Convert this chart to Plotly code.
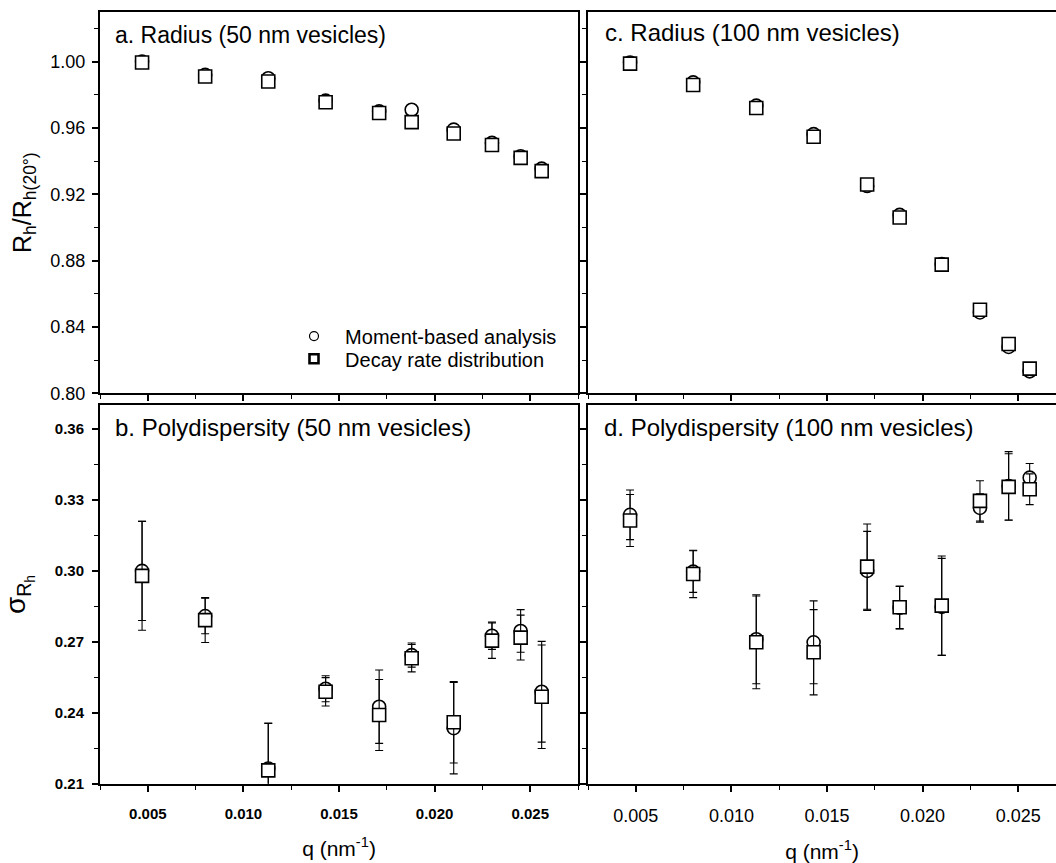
import plotly.graph_objects as go

# ---------------- data ----------------
q = [0.0047, 0.0080, 0.0113, 0.0143, 0.0171, 0.0188, 0.0210, 0.0230, 0.0245, 0.0256]

# a. Radius (50 nm vesicles)
a_moment = [1.000, 0.992, 0.990, 0.9765, 0.970, 0.971, 0.959, 0.951, 0.943, 0.9355]
a_decay = [0.9995, 0.991, 0.988, 0.9755, 0.969, 0.9635, 0.9567, 0.9497, 0.942, 0.934]

# c. Radius (100 nm vesicles)
c_moment = [0.9995, 0.9875, 0.9735, 0.9563, 0.925, 0.9076, 0.878, 0.8488, 0.828, 0.8133]
c_decay = [0.9988, 0.9859, 0.972, 0.9547, 0.9259, 0.906, 0.8776, 0.8504, 0.8298, 0.8149]

# b. Polydispersity (50 nm vesicles)
b_moment = [0.300, 0.2809, 0.2165, 0.2502, 0.2426, 0.2644, 0.2335, 0.2726, 0.2746, 0.2489]
b_moment_err = [0.021, 0.0075, 0.019, 0.0055, 0.0155, 0.0051, 0.0193, 0.0058, 0.009, 0.0213]
b_decay = [0.2979, 0.2792, 0.2157, 0.2489, 0.2391, 0.2631, 0.236, 0.2705, 0.2718, 0.2468]
b_decay_err = [0.023, 0.0095, 0.020, 0.0060, 0.015, 0.0058, 0.0172, 0.0075, 0.0095, 0.0219]

# d. Polydispersity (100 nm vesicles)
d_moment = [0.3237, 0.2997, 0.2711, 0.2698, 0.300, 0.2844, 0.2848, 0.3266, 0.3359, 0.3394]
d_moment_err = [0.0105, 0.0088, 0.0188, 0.0175, 0.0167, 0.009, 0.0205, 0.006, 0.0145, 0.006]
d_decay = [0.3213, 0.2987, 0.2698, 0.2656, 0.3018, 0.2846, 0.2853, 0.3296, 0.3355, 0.3345]
d_decay_err = [0.011, 0.0100, 0.0196, 0.018, 0.018, 0.009, 0.021, 0.0085, 0.014, 0.0065]

series_names = ["Moment-based analysis", "Decay rate distribution"]
panel_titles = ["a. Radius (50 nm vesicles)", "c. Radius (100 nm vesicles)",
                "b. Polydispersity (50 nm vesicles)", "d. Polydispersity (100 nm vesicles)"]

# ---------------- figure ----------------
W, H = 1056, 863
FONT = "Liberation Sans, Arial, Helvetica, sans-serif"

fig = go.Figure()

def px_x(p):
    return p / W

def px_y(p):
    return 1 - p / H

def add_pair(xa, ya, ym, yd, em=None, ed=None):
    common = dict(mode="markers", xaxis=xa, yaxis=ya, showlegend=False, hoverinfo="skip")
    mk = dict(size=13, color="white", line=dict(color="black", width=1.6))
    t1 = dict(x=q, y=ym, marker=dict(symbol="circle", **mk), **common)
    t2 = dict(x=q, y=yd, marker=dict(symbol="square", **mk), **common)
    if em is not None:
        t1["error_y"] = dict(type="data", array=em, visible=True, color="black", thickness=1.1, width=4)
        t2["error_y"] = dict(type="data", array=ed, visible=True, color="black", thickness=1.1, width=4)
    fig.add_trace(go.Scatter(**t1))
    fig.add_trace(go.Scatter(**t2))

add_pair("x", "y", a_moment, a_decay)
add_pair("x2", "y2", c_moment, c_decay)
add_pair("x3", "y3", b_moment, b_decay, b_moment_err, b_decay_err)
add_pair("x4", "y4", d_moment, d_decay, d_moment_err, d_decay_err)

# legend-only entries (smaller symbols as in the original legend), one legend per row
fig.add_trace(go.Scatter(x=[None], y=[None], mode="markers", xaxis="x", yaxis="y",
                         name="\u00a0\u00a0" + series_names[0], legend="legend",
                         marker=dict(symbol="circle", size=9, color="white",
                                     line=dict(color="black", width=1.2))))
fig.add_trace(go.Scatter(x=[None], y=[None], mode="markers", xaxis="x", yaxis="y",
                         name="\u00a0\u00a0" + series_names[1], legend="legend2",
                         marker=dict(symbol="square", size=9, color="white",
                                     line=dict(color="black", width=2.6))))

# geometry (pixels)
L_left, L_right = 100, 578
R_left = 588
T_top, T_bot = 12, 398
B_top, B_bot = 410, 793
xr = [0.0025, 0.0275]
px_per_q = (L_right - L_left) / (xr[1] - xr[0])
xr_right = [xr[0], xr[0] + (W - R_left) / px_per_q]

def xaxis(domain, rng, anchor, labels, font=None):
    d = dict(domain=domain, range=rng, anchor=anchor, showgrid=False, zeroline=False,
             showline=True, linecolor="black", linewidth=2, mirror=True,
             ticks="outside", ticklen=6, tickwidth=1.5, tickcolor="black",
             tick0=0, dtick=0.005, tickformat=".3f", showticklabels=labels,
             ticklabelstandoff=9,
             minor=dict(dtick=0.0025, ticks="outside", ticklen=4, tickwidth=1.2, tickcolor="black"))
    if font:
        d["tickfont"] = font
    return d

def yaxis(domain, rng, anchor, tick0, dtick, mdtick, labels, mirror, font=None, standoff=2):
    d = dict(domain=domain, range=rng, anchor=anchor, showgrid=False, zeroline=False,
             showline=True, linecolor="black", linewidth=2, mirror=mirror,
             ticks="outside", ticklen=6, tickwidth=1.5, tickcolor="black",
             tick0=tick0, dtick=dtick, tickformat=".2f", showticklabels=labels,
             ticklabelstandoff=standoff,
             minor=dict(dtick=mdtick, ticks="outside", ticklen=4, tickwidth=1.2, tickcolor="black"))
    if font:
        d["tickfont"] = font
    return d

dom_xl = [px_x(L_left), px_x(L_right)]
dom_xr = [px_x(R_left), 1.0]
dom_yt = [px_y(T_bot), px_y(T_top)]
dom_yb = [px_y(B_bot), px_y(B_top)]

legend_common = dict(xanchor="left", yanchor="middle", bgcolor="rgba(0,0,0,0)", borderwidth=0,
                     font=dict(size=20, family=FONT, color="black"), itemsizing="trace")

fig.update_layout(
    width=W, height=H,
    margin=dict(l=0, r=0, t=0, b=0),
    paper_bgcolor="white", plot_bgcolor="white",
    font=dict(family=FONT, color="black"),
    xaxis=xaxis(dom_xl, xr, "y", False),
    yaxis=yaxis(dom_yt, [0.80, 1.03], "x", 0.8, 0.04, 0.02, True, True,
                font=dict(size=18, family=FONT, color="black"), standoff=3),
    xaxis2=xaxis(dom_xr, xr_right, "y2", False),
    yaxis2=yaxis(dom_yt, [0.80, 1.03], "x2", 0.8, 0.04, 0.02, False, False),
    xaxis3=xaxis(dom_xl, xr, "y3", True,
                 font=dict(size=15, family=FONT, color="black", weight="bold")),
    yaxis3=yaxis(dom_yb, [0.21, 0.37], "x3", 0.21, 0.03, 0.015, True, True,
                 font=dict(size=15, family=FONT, color="black", weight="bold"), standoff=5),
    xaxis4=xaxis(dom_xr, xr_right, "y4", True, font=dict(size=18, family=FONT, color="black")),
    yaxis4=yaxis(dom_yb, [0.21, 0.37], "x4", 0.21, 0.03, 0.015, False, False),
    legend=dict(x=px_x(294), y=px_y(340), **legend_common),
    legend2=dict(x=px_x(294), y=px_y(363), **legend_common),
    showlegend=True,
)

fig.update_layout(
    yaxis_title=dict(text="R<sub>h</sub>/R<sub>h(20°)</sub>", font=dict(size=25, family=FONT), standoff=12),
    yaxis3_title=dict(text="σ<sub>R<sub>h</sub></sub>", font=dict(size=28, family=FONT), standoff=24),
    xaxis3_title=dict(text="q (nm<sup>-1</sup>)", font=dict(size=21, family=FONT), standoff=20),
    xaxis4_title=dict(text="q (nm<sup>-1</sup>)", font=dict(size=21, family=FONT), standoff=20),
)

title_pos = [(113, 35, 23), (603, 33, 24), (113, 433, 24), (602, 433, 24)]
for txt, (xp, yp, fs) in zip(panel_titles, title_pos):
    fig.add_annotation(text=txt, xref="paper", yref="paper", x=px_x(xp), y=px_y(yp),
                       xanchor="left", yanchor="middle", showarrow=False,
                       font=dict(size=fs, family=FONT, color="black"))

fig.write_html("out.html")
